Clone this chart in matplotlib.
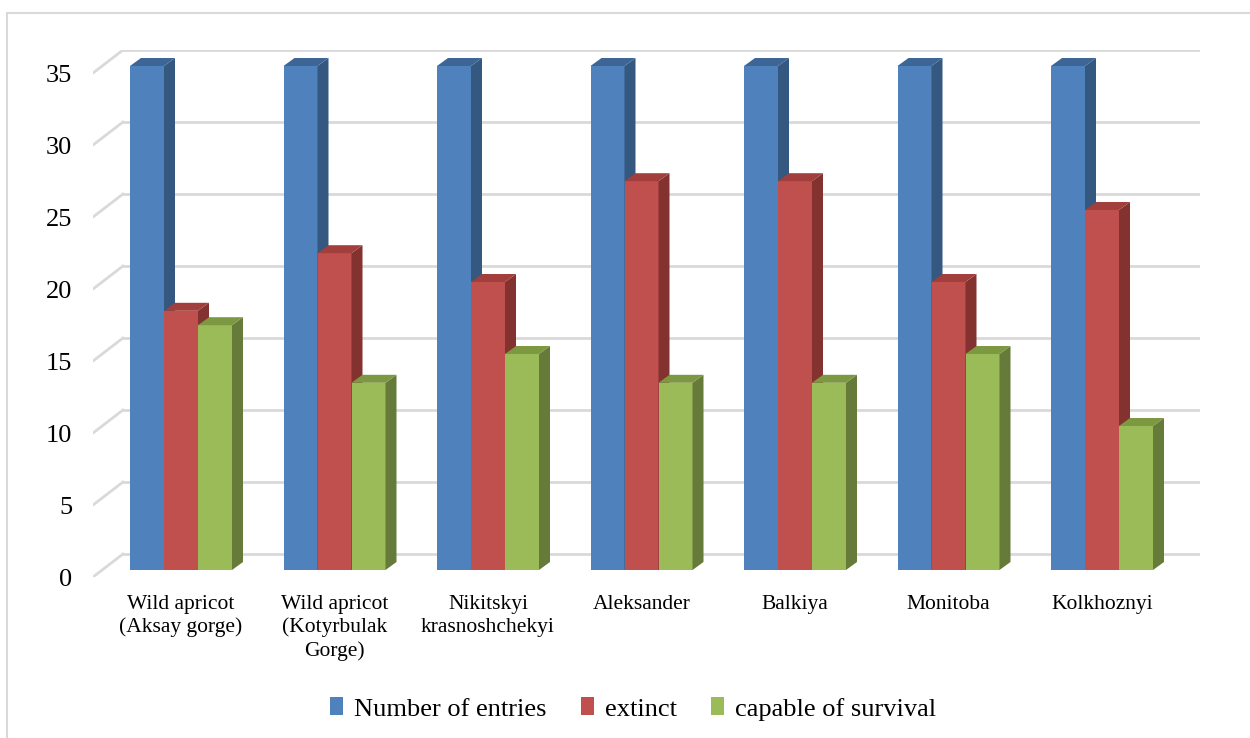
import matplotlib.pyplot as plt
from matplotlib.patches import Polygon, Patch, Rectangle
from matplotlib.lines import Line2D

categories = ['Wild apricot\n(Aksay gorge)', 'Wild apricot\n(Kotyrbulak\nGorge)',
              'Nikitskyi\nkrasnoshchekyi', 'Aleksander', 'Balkiya', 'Monitoba', 'Kolkhoznyi']
entries = [35, 35, 35, 35, 35, 35, 35]
extinct = [18, 22, 20, 27, 27, 20, 25]
survival = [17, 13, 15, 13, 13, 15, 10]
series_names = ['Number of entries', 'extinct', 'capable of survival']
yticks = [0, 5, 10, 15, 20, 25, 30, 35]

# front, side, top colours
cols = [('#4F81BD', '#34587F', '#3D6596'),
        ('#C0504D', '#843230', '#A23E3B'),
        ('#9BBB59', '#667A39', '#7C9841')]

plt.rcParams['font.family'] = ['Liberation Serif', 'DejaVu Serif']

W, H = 1250, 738
fig = plt.figure(figsize=(W / 100, H / 100), dpi=100)
# axes spans front-left floor (93,577) to back-right top (1200,50)
left, right, bot, top = 93, 1200, 577, 50
ax = fig.add_axes([left / W, (H - bot) / H, (right - left) / W, (bot - top) / H])

px_x = 153.5   # pixels per category
px_y = 14.4    # pixels per unit
x0 = (left - 181) / px_x
x1 = (right - 181) / px_x
wall_dx, wall_dy = 30 / px_x, 23 / px_y
ax.set_xlim(x0, x1)
ax.set_ylim(0, (bot - top) / px_y)

# back wall gridlines + slanted floor lines
for v in yticks:
    ax.add_line(Line2D([x0 + wall_dx, x1], [v + wall_dy, v + wall_dy], color='#D9D9D9', lw=2, zorder=1))
    ax.add_line(Line2D([x0, x0 + wall_dx], [v, v + wall_dy], color='#D9D9D9', lw=2, zorder=1))

bw = 34 / px_x
lift = 7 / px_y
ddx, ddy = 11 / px_x, 8 / px_y
allv = [entries, extinct, survival]
z = 2
for i in range(len(categories)):
    for k, vals in enumerate(allv):
        xl = i + (k - 1) * bw - bw / 2
        xr = xl + bw
        h = vals[i]
        fc, sc, tc = cols[k]
        ax.bar(xl, h, width=bw, bottom=lift, align='edge', color=fc, lw=0, zorder=z)
        yt = lift + h
        ax.add_patch(Polygon([(xr, lift), (xr + ddx, lift + ddy), (xr + ddx, yt + ddy), (xr, yt)],
                             closed=True, color=sc, lw=0, zorder=z))
        ax.add_patch(Polygon([(xl, yt), (xr, yt), (xr + ddx, yt + ddy), (xl + ddx, yt + ddy)],
                             closed=True, color=tc, lw=0, zorder=z))
        z += 1

ax.set_yticks(yticks)
ax.set_yticklabels([str(v) for v in yticks], fontsize=19)
ax.set_xticks(range(len(categories)))
ax.set_xticklabels(categories, fontsize=15.5, linespacing=1.25)
ax.tick_params(axis='y', length=0, pad=15)
ax.tick_params(axis='x', length=0, pad=13)
for s in ax.spines.values():
    s.set_visible(False)

handles = [Patch(facecolor=c[0], edgecolor='none') for c in cols]
fig.legend(handles, series_names, loc='center', bbox_to_anchor=(633 / W, (H - 709) / H),
           ncol=3, frameon=False, fontsize=19, handlelength=0.5, handleheight=0.65,
           handletextpad=0.4, columnspacing=1.3)

# outer chart border
fig.patches.append(Rectangle((7 / W, -0.01), 1.1, (H - 13) / H + 0.01, transform=fig.transFigure,
                             fill=False, edgecolor='#D9D9D9', lw=1.5))

fig.savefig('out.png', dpi=100)
